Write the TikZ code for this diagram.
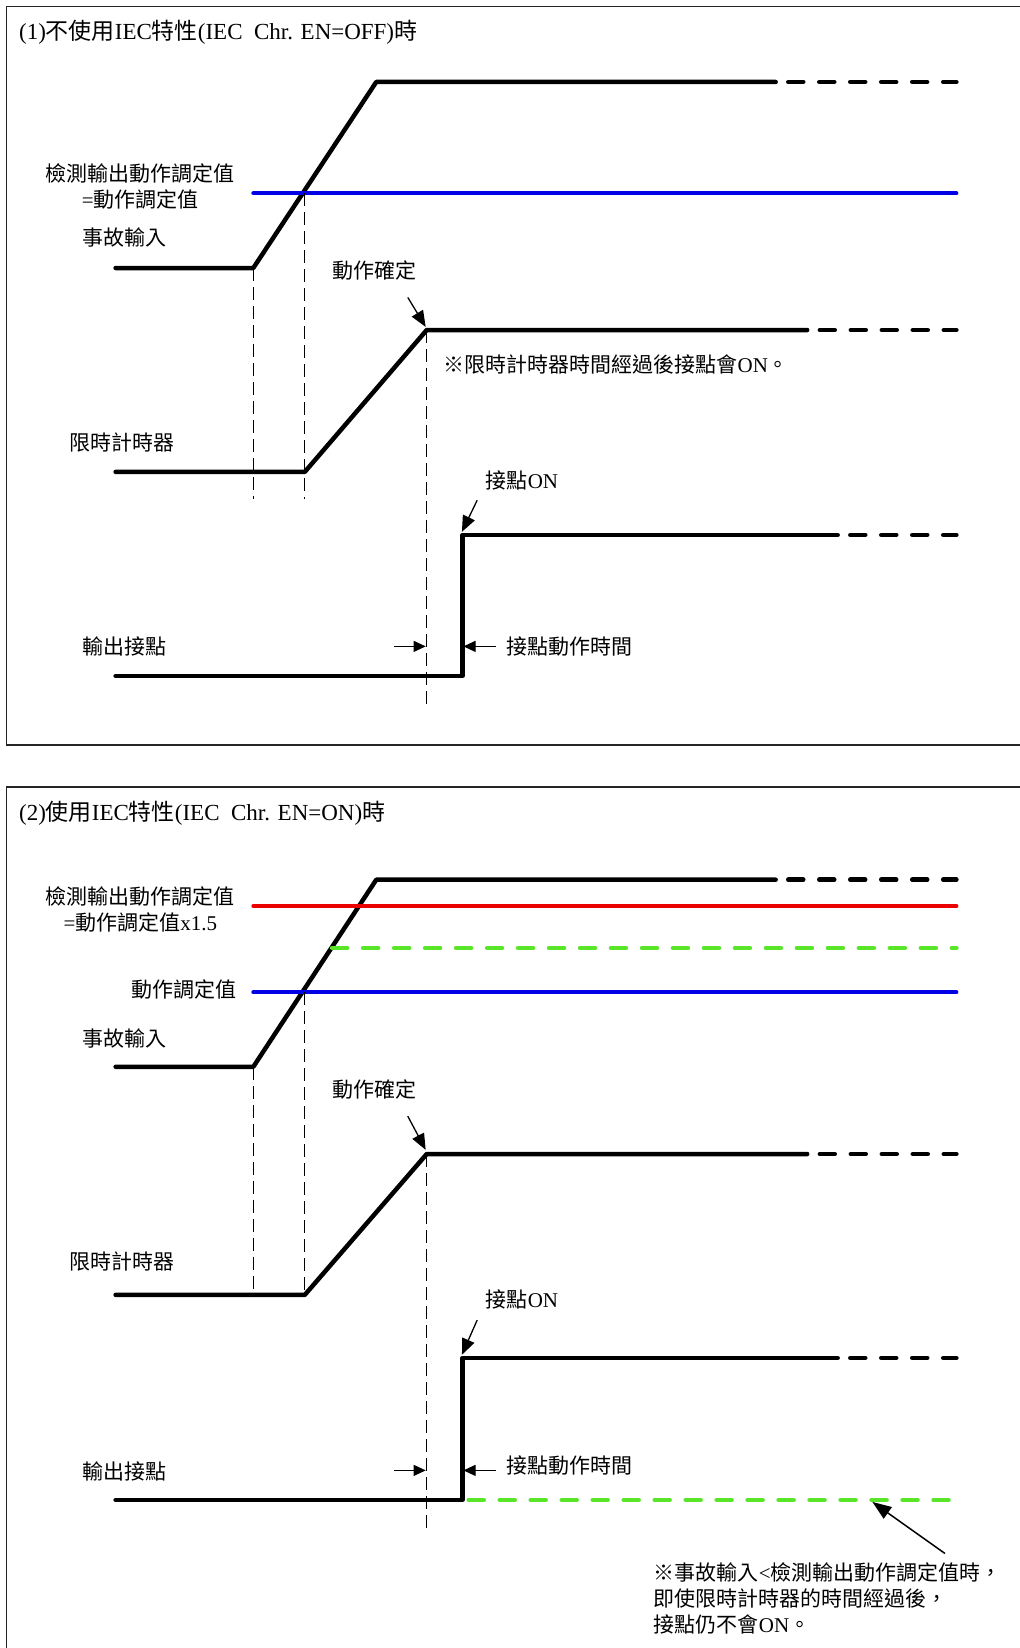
\documentclass[tikz,border=0pt]{standalone}
\usepackage{fontspec}
\setmainfont{Liberation Serif}
\newfontfamily\cjk{Noto Sans CJK TC}
\newcommand\zh[1]{{\cjk #1}}
\usetikzlibrary{arrows.meta}
\definecolor{sigblue}{RGB}{0,0,230}
\definecolor{sigred}{RGB}{235,0,0}
\definecolor{siggreen}{RGB}{90,230,40}
\begin{document}
\begin{tikzpicture}[x=1.0515pt,y=-1.0515pt,
  sig/.style={line width=4.5pt, line join=round, line cap=round},
  sigdash/.style={line width=4.5pt, line cap=round, dash pattern=on 15pt off 16pt},
  level/.style={line width=4pt, line cap=round},
  guide/.style={line width=1.2pt, dash pattern=on 13pt off 6pt},
  frame/.style={line width=1.6pt, draw=black!85},
  lbl/.style={inner sep=0pt, anchor=base west, font=\fontsize{21}{26}\selectfont},
  ttl/.style={inner sep=0pt, anchor=base west, font=\fontsize{23}{26}\selectfont},
  ptr/.style={line width=1.3pt, -{Triangle[length=16pt,width=13pt]}},
  dim/.style={line width=1pt, -{Triangle[length=12pt,width=11pt]}},
]
\useasboundingbox (0,0) rectangle (970,1568);
\fill[white] (0,0) rectangle (970,1568);

% ================= Panel 1 =================
\draw[frame] (980,6) -- (6,6) -- (6,709) -- (980,709);
\node[ttl] (t1) at (18,38) {(1)\zh{不使用}IEC\zh{特性}(IEC\ \ Chr. EN=OFF)\zh{時}};

% fault input
\coordinate (a0) at (110,255); \coordinate (a1) at (241,255);
\coordinate (a2) at (358,78);  \coordinate (a3) at (738,78);
\coordinate (a4) at (750,78);  \coordinate (a5) at (910,78);
\draw[sig] (a0) -- (a1) -- (a2) -- (a3);
\draw[sigdash] (a4) -- (a5);
% setting level
\coordinate (b0) at (241,184); \coordinate (b1) at (910,184);
\draw[level, sigblue] (b0) -- (b1);
% timer
\coordinate (c0) at (110,449); \coordinate (c1) at (290,449);
\coordinate (c2) at (406,314); \coordinate (c3) at (768,314);
\coordinate (c4) at (780,314); \coordinate (c5) at (910,314);
\draw[sig] (c0) -- (c1) -- (c2) -- (c3);
\draw[sigdash] (c4) -- (c5);
% output contact
\coordinate (d0) at (110,643); \coordinate (d1) at (440,643);
\coordinate (d2) at (440,509); \coordinate (d3) at (797,509);
\coordinate (d4) at (809,509); \coordinate (d5) at (910,509);
\draw[sig] (d0) -- (d1) -- (d2) -- (d3);
\draw[sigdash] (d4) -- (d5);
% guides
\coordinate (g1a) at (241,255); \coordinate (g1b) at (241,475);
\coordinate (g2a) at (290,184); \coordinate (g2b) at (290,475);
\coordinate (g3a) at (406,314); \coordinate (g3b) at (406,670);
\draw[guide] (g1a) -- (g1b);
\draw[guide] (g2a) -- (g2b);
\draw[guide] (g3a) -- (g3b);
% labels
\node[lbl, anchor=center, align=center] (l1set) at (133.5,177) {\zh{檢測輸出動作調定值}\\=\zh{動作調定值}};
\node[lbl] (l1fi) at (78,234) {\zh{事故輸入}};
\node[lbl] (l1conf) at (316,265) {\zh{動作確定}};
\node[lbl] (l1tm) at (66,429) {\zh{限時計時器}};
\node[lbl] (l1note) at (422,354) {\zh{※限時計時器時間經過後接點會}ON\zh{。}};
\node[lbl] (l1on) at (462,465) {\zh{接點}ON};
\node[lbl] (l1out) at (78,623) {\zh{輸出接點}};
\node[lbl] (l1dt) at (482,623) {\zh{接點動作時間}};
% pointers
\coordinate (p1s) at (388,283); \coordinate (p1e) at (405,311);
\draw[ptr] (p1s) -- (p1e);
\coordinate (p2s) at (454,476); \coordinate (p2e) at (439.5,506);
\draw[ptr] (p2s) -- (p2e);
\coordinate (m1s) at (375,615); \coordinate (m1e) at (405,615);
\coordinate (m2s) at (472,615); \coordinate (m2e) at (441,615);
\draw[dim] (m1s) -- (m1e);
\draw[dim] (m2s) -- (m2e);

% ================= Panel 2 =================
\draw[frame] (980,749) -- (6,749) -- (6,1580);
\node[ttl] (t2) at (18,781) {(2)\zh{使用}IEC\zh{特性}(IEC\ \ Chr. EN=ON)\zh{時}};

% fault input
\coordinate (e0) at (110,1015); \coordinate (e1) at (241,1015);
\coordinate (e2) at (358,837);  \coordinate (e3) at (738,837);
\coordinate (e4) at (750,837);  \coordinate (e5) at (910,837);
\draw[sig] (e0) -- (e1) -- (e2) -- (e3);
\draw[sigdash] (e4) -- (e5);
% levels
\coordinate (r0) at (241,862); \coordinate (r1) at (910,862);
\draw[level, sigred] (r0) -- (r1);
\coordinate (q0) at (316,902); \coordinate (q1) at (910,902);
\draw[sigdash, siggreen] (q0) -- (q1);
\coordinate (f0) at (241,944); \coordinate (f1) at (910,944);
\draw[level, sigblue] (f0) -- (f1);
% timer
\coordinate (h0) at (110,1232); \coordinate (h1) at (290,1232);
\coordinate (h2) at (406,1098); \coordinate (h3) at (768,1098);
\coordinate (h4) at (780,1098); \coordinate (h5) at (910,1098);
\draw[sig] (h0) -- (h1) -- (h2) -- (h3);
\draw[sigdash] (h4) -- (h5);
% output contact
\coordinate (k0) at (110,1427); \coordinate (k1) at (440,1427);
\coordinate (k2) at (440,1292); \coordinate (k3) at (797,1292);
\coordinate (k4) at (809,1292); \coordinate (k5) at (910,1292);
\draw[sig] (k0) -- (k1) -- (k2) -- (k3);
\draw[sigdash] (k4) -- (k5);
\coordinate (n0) at (446,1427); \coordinate (n1) at (905,1427);
\draw[sigdash, siggreen] (n0) -- (n1);
% guides
\coordinate (G1a) at (241,1015); \coordinate (G1b) at (241,1232);
\coordinate (G2a) at (290,944);  \coordinate (G2b) at (290,1232);
\coordinate (G3a) at (406,1098); \coordinate (G3b) at (406,1455);
\draw[guide] (G1a) -- (G1b);
\draw[guide] (G2a) -- (G2b);
\draw[guide] (G3a) -- (G3b);
% labels
\node[lbl, anchor=center, align=center] (l2set) at (133.5,865) {\zh{檢測輸出動作調定值}\\=\zh{動作調定值}x1.5};
\node[lbl, anchor=base east] (l2lvl) at (225,949) {\zh{動作調定值}};
\node[lbl] (l2fi) at (78,996) {\zh{事故輸入}};
\node[lbl] (l2conf) at (316,1044) {\zh{動作確定}};
\node[lbl] (l2tm) at (66,1208) {\zh{限時計時器}};
\node[lbl] (l2on) at (462,1244) {\zh{接點}ON};
\node[lbl] (l2out) at (78,1408) {\zh{輸出接點}};
\node[lbl] (l2dt) at (482,1402) {\zh{接點動作時間}};
\node[lbl, anchor=north west, align=left] (l2note) at (622,1487)
  {\zh{※事故輸入}<\zh{檢測輸出動作調定值時，}\\\zh{即使限時計時器的時間經過後，}\\\zh{接點仍不會}ON\zh{。}};
% pointers
\coordinate (P1s) at (388,1062); \coordinate (P1e) at (405,1094);
\draw[ptr] (P1s) -- (P1e);
\coordinate (P2s) at (454,1256); \coordinate (P2e) at (439.5,1289);
\draw[ptr] (P2s) -- (P2e);
\coordinate (M1s) at (375,1399); \coordinate (M1e) at (405,1399);
\coordinate (M2s) at (472,1399); \coordinate (M2e) at (441,1399);
\draw[dim] (M1s) -- (M1e);
\draw[dim] (M2s) -- (M2e);
\coordinate (B1s) at (899,1478); \coordinate (B1e) at (830,1429);
\draw[line width=1.5pt, -{Triangle[length=19pt,width=14pt]}] (B1s) -- (B1e);
\end{tikzpicture}
\end{document}
